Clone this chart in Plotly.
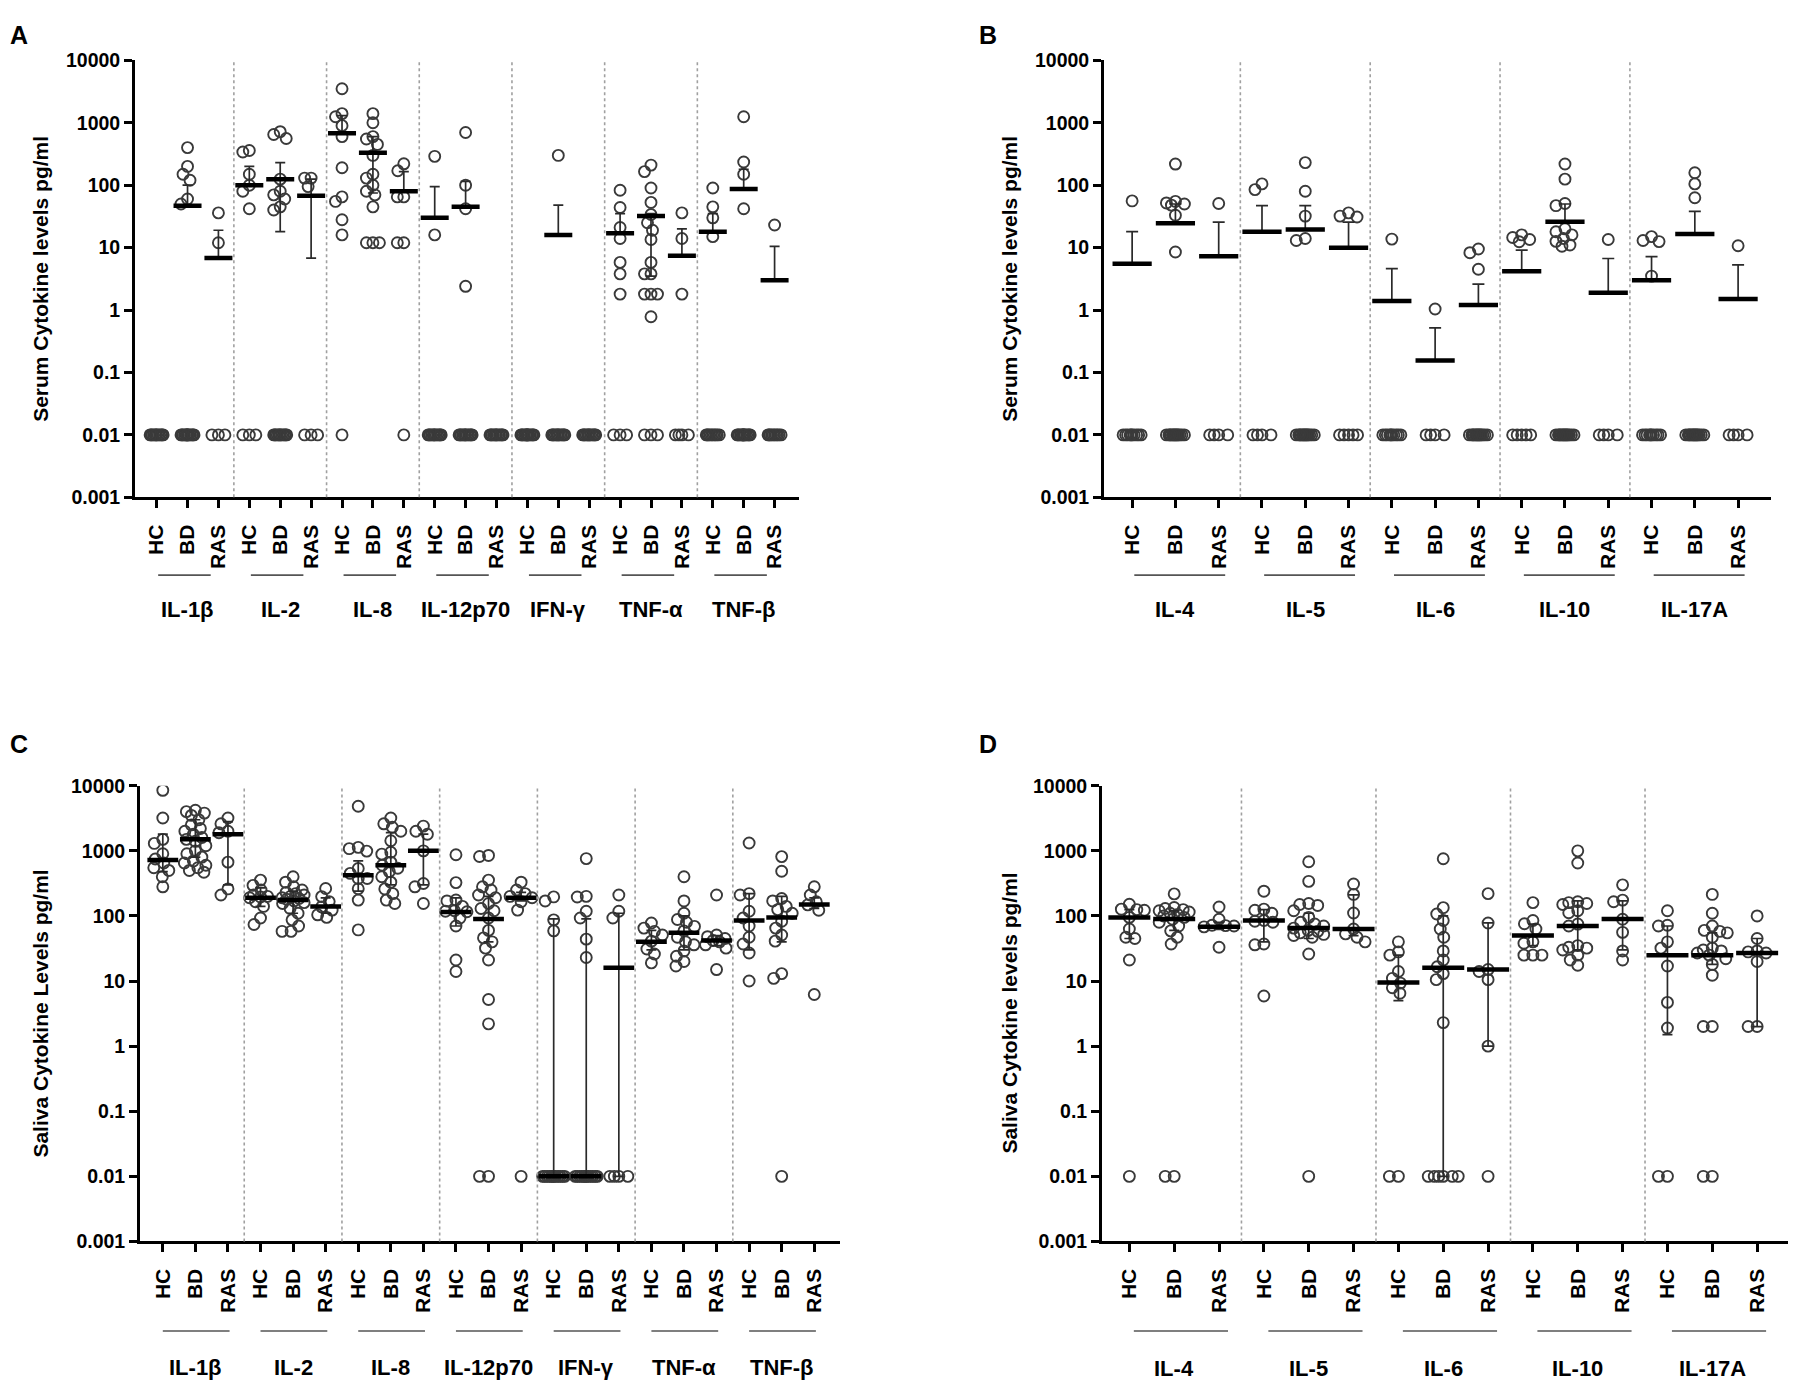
import numpy as np
import plotly.graph_objects as go

W, H = 1796, 1397
FONT = 'Liberation Sans, Arial, sans-serif'
groups = ['HC', 'BD', 'RAS']
ND = 0.01  # below detection limit, plotted at 0.01

# ############################################################################
#  data, values per cytokine: [HC, BD, RAS]
# ############################################################################
a_cytokines = ['IL-1β', 'IL-2', 'IL-8', 'IL-12p70', 'IFN-γ', 'TNF-α', 'TNF-β']
a_values = [
    [[], [400, 200, 150, 120, 60, 50], [36, 12]],
    [[360, 340, 150, 100, 80, 42], [720, 650, 560, 125, 80, 70, 60, 45, 40], [130, 130, 95]],
    [[3500, 1400, 1250, 900, 600, 190, 65, 55, 28, 16],
     [1400, 1000, 600, 550, 450, 300, 150, 130, 100, 80, 70, 45, 12, 12, 12],
     [220, 170, 65, 65, 12, 12]],
    [[290, 16], [700, 100, 42, 2.4], []],
    [[], [300], []],
    [[83, 44, 21, 14, 5.8, 3.8, 1.8],
     [210, 165, 90, 53, 34, 25, 19, 13.5, 5.8, 3.8, 3.8, 1.8, 1.8, 1.8, 0.78],
     [36, 14, 1.8]],
    [[90, 45, 30, 15], [1250, 235, 150, 42], [23]],
]
a_nd = [[12, 14, 3], [3, 12, 3], [1, 0, 1], [12, 12, 12], [14, 12, 12], [3, 3, 4], [10, 14, 10]]
a_median = [[None, 47, 6.8], [100, 125, 68], [680, 330, 80], [30, 45, None],
            [None, 16, None], [17, 32, 7.4], [18, 87, 3.0]]
a_q1 = [[None, 47, 6.8], [100, 18, 6.8], [680, 75, 80], [30, 45, None],
        [None, 16, None], [17, 3.5, 7.4], [18, 87, 3.0]]
a_q3 = [[None, 100, 19], [200, 230, 125], [1300, 600, 165], [95, 115, None],
        [None, 48, None], [35, 35, 20], [35, 180, 10.5]]

b_cytokines = ['IL-4', 'IL-5', 'IL-6', 'IL-10', 'IL-17A']
b_values = [
    [[56], [218, 55, 52, 50, 48, 33, 8.5], [51]],
    [[105, 85], [230, 80, 32, 14, 13], [36, 32, 31]],
    [[13.7], [1.04], [9.5, 8.3, 4.5]],
    [[16, 14.5, 13.5, 12.4], [219, 125, 51, 47, 20, 18, 16, 14, 12.6, 11, 10.5], [13.5]],
    [[15, 13, 12.5, 3.5], [158, 105, 63], [10.7]],
]
b_nd = [[10, 14, 4], [4, 14, 5], [10, 4, 14], [5, 14, 4], [10, 14, 4]]
b_median = [[5.5, 24.5, 7.3], [18, 19.5, 10], [1.4, 0.156, 1.2], [4.2, 26, 1.9], [3.0, 16.6, 1.5]]
b_q1 = [[5.5, 24.5, 7.3], [18, 19.5, 10], [1.4, 0.156, 1.2], [4.2, 26, 1.9], [3.0, 16.6, 1.5]]
b_q3 = [[18, 50, 25.6], [47, 47, 25.6], [4.6, 0.52, 2.6], [9.1, 50, 6.7], [7.2, 38, 5.3]]

c_cytokines = ['IL-1β', 'IL-2', 'IL-8', 'IL-12p70', 'IFN-γ', 'TNF-α', 'TNF-β']
c_values = [
    [[8500, 3200, 1500, 1300, 900, 750, 650, 550, 500, 400, 280],
     [4200, 4000, 3800, 3500, 3000, 2500, 2200, 2000, 1800, 1600, 1500, 1400, 1200, 1000,
      900, 800, 700, 650, 600, 550, 500, 470],
     [3200, 2600, 2000, 1900, 670, 260, 210]],
    [[355, 295, 250, 210, 200, 195, 190, 165, 140, 93, 74],
     [400, 330, 280, 250, 230, 220, 210, 200, 190, 185, 180, 170, 160, 155, 130, 110, 87, 70, 58, 58],
     [264, 198, 166, 138, 123, 104, 95]],
    [[4850, 1130, 1080, 990, 535, 450, 375, 375, 262, 175, 61],
     [3200, 2600, 2300, 2000, 1430, 950, 890, 670, 600, 540, 480, 400, 330, 260, 220, 175, 155],
     [2400, 2000, 1800, 1000, 315, 280, 155]],
    [[870, 325, 176, 170, 140, 120, 118, 116, 93, 70, 21, 14],
     [850, 820, 355, 280, 250, 210, 190, 155, 130, 120, 93, 60, 46, 40, 32, 21, 5.2, 2.2],
     [330, 250, 220, 200, 190, 165, 123]],
    [[196, 170, 87, 59], [760, 200, 195, 118, 93, 44, 23], [210, 118, 93]],
    [[78, 65, 58, 51, 41, 31, 26, 19],
     [400, 170, 110, 88, 80, 69, 59, 47, 40, 36, 29, 24, 20, 17],
     [210, 51, 48, 45, 42, 40, 36, 32, 15]],
    [[1320, 220, 210, 118, 93, 70, 47, 37, 27, 10],
     [815, 485, 185, 170, 140, 125, 110, 83, 65, 51, 41, 13, 11],
     [280, 210, 165, 148, 122, 6.2]],
]
c_nd = [[0, 0, 0], [0, 0, 0], [0, 0, 0], [0, 2, 1], [12, 12, 4], [0, 0, 0], [0, 1, 0]]
c_median = [[720, 1500, 1800], [190, 175, 140], [420, 600, 1000], [115, 90, 190],
            [0.01, 0.01, 16], [40, 55, 42], [85, 95, 150]]
c_q1 = [[480, 800, 300], [140, 110, 110], [240, 300, 300], [70, 40, 170],
        [0.01, 0.01, 0.01], [30, 30, 35], [30, 40, 130]]
c_q3 = [[1800, 3000, 2800], [270, 240, 190], [700, 1900, 1800], [190, 200, 230],
        [90, 90, 110], [60, 100, 50], [220, 200, 190]]

d_cytokines = ['IL-4', 'IL-5', 'IL-6', 'IL-10', 'IL-17A']
d_values = [
    [[151, 127, 125, 122, 95, 63, 47, 45, 21],
     [218, 135, 130, 125, 120, 115, 110, 105, 100, 95, 89, 80, 70, 59, 47, 37],
     [137, 89, 72, 71, 70, 68, 33]],
    [[240, 127, 122, 110, 85, 83, 80, 37, 36, 5.9],
     [680, 340, 155, 150, 145, 120, 95, 80, 75, 70, 65, 60, 58, 55, 52, 50, 47, 26],
     [310, 214, 111, 63, 53, 47, 40]],
    [[40, 28, 25, 14, 11, 9.3, 7.9, 6.5],
     [755, 134, 107, 85, 63, 47, 29, 21, 16.6, 13, 10.5, 2.3],
     [220, 78, 15, 14, 10.5, 1.0]],
    [[160, 85, 76, 63, 40, 38, 25, 25, 25],
     [1000, 650, 165, 160, 155, 150, 120, 112, 75, 70, 35, 33, 32, 30, 25, 21, 17.5],
     [300, 175, 165, 89, 56, 29, 21]],
    [[120, 72, 70, 40, 32, 17, 4.7, 1.9],
     [214, 110, 70, 60, 58, 55, 47, 32, 30, 29, 27, 25, 22, 18, 12.3, 2.0, 2.0],
     [100, 45, 29, 28, 27, 20, 2.0, 2.0]],
]
d_nd = [[1, 2, 0], [0, 1, 0], [2, 6, 1], [0, 0, 0], [2, 2, 0]]
d_median = [[95, 90, 68], [85, 65, 63], [9.5, 16, 15], [50, 70, 90], [25, 25, 27]]
d_q1 = [[45, 60, 62], [40, 45, 50], [5, 0.01, 1], [35, 30, 30], [1.5, 18, 2]]
d_q3 = [[125, 120, 80], [125, 110, 210], [25, 100, 78], [75, 170, 170], [70, 55, 45]]

y_tickvals = [0.001, 0.01, 0.1, 1, 10, 100, 1000, 10000]
y_ticktext = ['0.001', '0.01', '0.1', '1', '10', '100', '1000', '10000']

# panel layout in pixels of the 1796x1397 page
panels = [
    dict(letter='A', cyt=a_cytokines, vals=a_values, nd=a_nd, med=a_median, q1=a_q1, q3=a_q3,
         ytitle='Serum Cytokine levels pg/ml', px=(127, 791), py=(42, 486), xr=(-0.70, 20.79),
         letter_xy=(11, 16), title_x=33, under_y=565, lab_y=600, under=(0.05, 1.75),
         bar=20, cap=5, wmax=6.5),
    dict(letter='B', cyt=b_cytokines, vals=b_values, nd=b_nd, med=b_median, q1=b_q1, q3=b_q3,
         ytitle='Serum Cytokine levels pg/ml', px=(1096, 1763), py=(42, 486), xr=(-0.65, 14.76),
         letter_xy=(980, 16), title_x=1002, under_y=565, lab_y=600, under=(0.05, 2.15),
         bar=28, cap=6, wmax=9),
    dict(letter='C', cyt=c_cytokines, vals=c_values, nd=c_nd, med=c_median, q1=c_q1, q3=c_q3,
         ytitle='Saliva Cytokine Levels pg/ml', px=(132, 832), py=(779, 1242), xr=(-0.70, 20.79),
         letter_xy=(11, 737), title_x=33, under_y=1333, lab_y=1370, under=(0.0, 2.05),
         bar=22, cap=5, wmax=11),
    dict(letter='D', cyt=d_cytokines, vals=d_values, nd=d_nd, med=d_median, q1=d_q1, q3=d_q3,
         ytitle='Saliva Cytokine levels pg/ml', px=(1094, 1785), py=(779, 1242), xr=(-0.61, 14.8),
         letter_xy=(980, 737), title_x=1002, under_y=1333, lab_y=1371, under=(0.1, 2.2),
         bar=30, cap=5, wmax=15),
]


def swarm(vals, ppd, ppx, dist=9.0, wmax=7.0):
    """
    GraphPad-like scatter arrangement: points that would overlap are pushed sideways
    :param vals: values of one column
    :param ppd: pixels per decade on the y axis
    :param ppx: pixels per category on the x axis
    :return: x offsets in category units
    """
    y = np.log10(np.asarray(vals, float)) * ppd
    off = np.zeros(len(y))
    placed = []
    cand = np.arange(-wmax, wmax + 0.01, 0.5)
    cand = cand[np.argsort(np.abs(cand), kind='stable')]
    for i in np.argsort(-y, kind='stable'):
        if not placed:
            placed.append((0.0, y[i]))
            continue
        p = np.array(placed)
        d = np.sqrt((cand[:, None] - p[None, :, 0]) ** 2 + (y[i] - p[None, :, 1]) ** 2).min(axis=1)
        ok = np.where(d >= dist)[0]
        c = cand[ok[0]] if len(ok) else cand[np.argmax(d)]
        off[i] = c
        placed.append((c, y[i]))
    return off / ppx


fig = go.Figure()
shapes = []
annotations = []
layout_axes = {}

for k, p in enumerate(panels):
    n = len(p['cyt']) * 3
    sfx = '' if k == 0 else str(k + 1)
    xa, ya = 'x' + sfx, 'y' + sfx
    ppx = (p['px'][1] - p['px'][0]) / (p['xr'][1] - p['xr'][0])
    ppd = (p['py'][1] - p['py'][0]) / 7.0

    # scatter points
    xs, ys = [], []
    for c in range(len(p['cyt'])):
        for g in range(3):
            v = list(p['vals'][c][g]) + [ND] * p['nd'][c][g]
            if not v:
                continue
            off = swarm(v, ppd, ppx, wmax=p['wmax'])
            xs.extend(c * 3 + g + off)
            ys.extend(v)
    fig.add_trace(go.Scatter(x=xs, y=ys, mode='markers', xaxis=xa, yaxis=ya, showlegend=False,
                             hoverinfo='skip',
                             marker=dict(symbol='circle-open', size=11, color='#3a3a3a',
                                         line=dict(width=1.9))))

    # median + interquartile range
    mx, my, up, dn = [], [], [], []
    for c in range(len(p['cyt'])):
        for g in range(3):
            m = p['med'][c][g]
            if m is None:
                continue
            mx.append(c * 3 + g)
            my.append(m)
            up.append(p['q3'][c][g] - m)
            dn.append(m - p['q1'][c][g])
    fig.add_trace(go.Scatter(x=mx, y=my, mode='markers', xaxis=xa, yaxis=ya, showlegend=False,
                             hoverinfo='skip',
                             marker=dict(symbol='line-ew', size=p['bar'],
                                         line=dict(width=4.5, color='black')),
                             error_y=dict(type='data', symmetric=False, array=up, arrayminus=dn,
                                          width=p['cap'], thickness=1.7, color='#2a2a2a')))

    dom_x = [p['px'][0] / W, p['px'][1] / W]
    dom_y = [1 - p['py'][1] / H, 1 - p['py'][0] / H]
    layout_axes['xaxis' + sfx] = dict(
        domain=dom_x, anchor=ya, range=list(p['xr']), tickmode='array',
        tickvals=list(range(n)), ticktext=groups * len(p['cyt']), tickangle=-90,
        ticks='outside', ticklen=8, tickwidth=2.5, tickcolor='black', ticklabelstandoff=8,
        showline=True, linewidth=2.8, linecolor='black', showgrid=False, zeroline=False,
        tickfont=dict(family=FONT, size=21, color='black', weight='bold'))
    layout_axes['yaxis' + sfx] = dict(
        domain=dom_y, anchor=xa, type='log', range=[-3, 4], tickmode='array',
        tickvals=y_tickvals, ticktext=y_ticktext,
        ticks='outside', ticklen=8, tickwidth=2.5, tickcolor='black',
        showline=True, linewidth=2.8, linecolor='black', showgrid=False, zeroline=False,
        tickfont=dict(family=FONT, size=19.5, color='black', weight='bold'))

    # dotted separators between cytokines
    for j in range(1, len(p['cyt'])):
        shapes.append(dict(type='line', xref=xa, yref=ya + ' domain', x0=3 * j - 0.5, x1=3 * j - 0.5,
                           y0=0, y1=1, line=dict(color='#a0a0a0', width=1.6, dash='dot')))

    # cytokine names with the short line above them
    for j, name in enumerate(p['cyt']):
        shapes.append(dict(type='line', xref=xa, yref='paper',
                           x0=3 * j + p['under'][0], x1=3 * j + p['under'][1],
                           y0=1 - p['under_y'] / H, y1=1 - p['under_y'] / H,
                           line=dict(color='#555555', width=1.6)))
        annotations.append(dict(text=name, xref=xa, yref='paper', x=3 * j + 1, y=1 - p['lab_y'] / H,
                                showarrow=False, xanchor='center', yanchor='middle',
                                font=dict(family=FONT, size=22, color='black', weight='bold')))

    annotations.append(dict(text=p['ytitle'], xref='paper', yref='paper', x=p['title_x'] / W,
                            y=1 - (p['py'][0] + p['py'][1]) / 2 / H, textangle=-90, showarrow=False,
                            xanchor='center', yanchor='middle',
                            font=dict(family=FONT, size=21, color='black', weight='bold')))
    annotations.append(dict(text=p['letter'], xref='paper', yref='paper', x=p['letter_xy'][0] / W,
                            y=1 - p['letter_xy'][1] / H, showarrow=False, xanchor='center',
                            yanchor='middle',
                            font=dict(family=FONT, size=25, color='black', weight='bold')))

fig.update_layout(width=W, height=H, margin=dict(l=0, r=0, t=0, b=0),
                  plot_bgcolor='white', paper_bgcolor='white',
                  shapes=shapes, annotations=annotations, **layout_axes)
fig.write_html("out.html")
